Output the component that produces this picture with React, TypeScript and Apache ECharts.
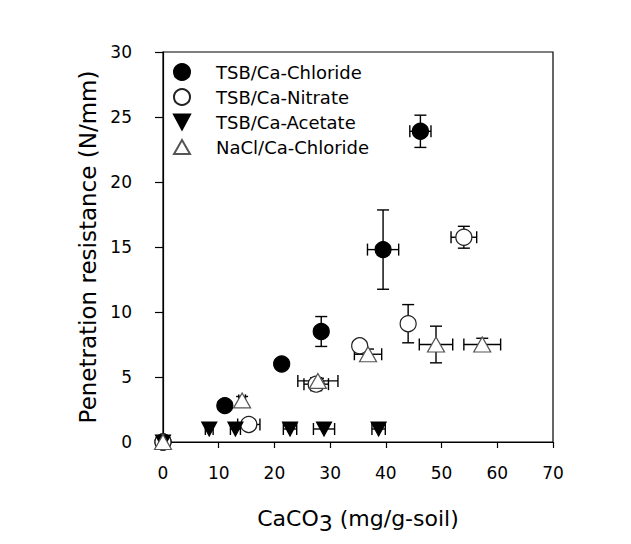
import React, { useEffect, useRef } from "react";
import * as echarts from "echarts";

const seriesNames = ["TSB/Ca-Chloride", "TSB/Ca-Nitrate", "TSB/Ca-Acetate", "NaCl/Ca-Chloride"];

const chlorideX = [0, 11.1, 21.3, 28.4, 39.5, 46.2];
const chlorideY = [0, 2.8, 6.0, 8.5, 14.8, 23.9];
const chlorideXErr = [0, 0, 0, 0, 2.8, 1.9];
const chlorideYErr = [0, 0, 0, 1.15, 3.05, 1.24];

const nitrateX = [0, 15.4, 27.5, 35.3, 44.0, 54.0];
const nitrateY = [0, 1.35, 4.45, 7.4, 9.1, 15.75];
const nitrateXErr = [0, 2.0, 2.2, 0, 0, 2.3];
const nitrateYErr = [0, 0.3, 0.5, 0, 1.47, 0.84];

const acetateX = [0, 8.3, 13.0, 22.8, 28.9, 38.7];
const acetateY = [0, 1.0, 1.0, 1.0, 1.0, 1.0];
const acetateXErr = [0, 0.7, 0.9, 1.2, 1.9, 1.2];
const acetateYErr = [0, 0, 0, 0, 0, 0];

const naclX = [0, 14.2, 27.8, 36.8, 49.0, 57.3];
const naclY = [0, 3.2, 4.7, 6.75, 7.5, 7.5];
const naclXErr = [0, 0.6, 3.6, 2.45, 3.0, 3.3];
const naclYErr = [0, 0.3, 0.2, 0.4, 1.41, 0.48];

const FONT = "DejaVu Sans";

function rows(x: number[], y: number[], xe: number[], ye: number[]) {
  return x.map((v, i) => [v, y[i], xe[i], ye[i]]);
}

const errRender = (params: any, api: any) => {
  const x = api.value(0);
  const y = api.value(1);
  const xe = api.value(2);
  const ye = api.value(3);
  const cap = 6;
  const st = { stroke: "#000", lineWidth: 1.4 };
  const children: any[] = [];
  if (xe > 0) {
    const l = api.coord([x - xe, y]);
    const r = api.coord([x + xe, y]);
    children.push({ type: "line", shape: { x1: l[0], y1: l[1], x2: r[0], y2: r[1] }, style: st });
    children.push({ type: "line", shape: { x1: l[0], y1: l[1] - cap, x2: l[0], y2: l[1] + cap }, style: st });
    children.push({ type: "line", shape: { x1: r[0], y1: r[1] - cap, x2: r[0], y2: r[1] + cap }, style: st });
  }
  if (ye > 0) {
    const b = api.coord([x, y - ye]);
    const t = api.coord([x, y + ye]);
    children.push({ type: "line", shape: { x1: b[0], y1: b[1], x2: t[0], y2: t[1] }, style: st });
    children.push({ type: "line", shape: { x1: b[0] - cap, y1: b[1], x2: b[0] + cap, y2: b[1] }, style: st });
    children.push({ type: "line", shape: { x1: t[0] - cap, y1: t[1], x2: t[0] + cap, y2: t[1] }, style: st });
  }
  return { type: "group", children };
};

export default function App() {
  const ref = useRef<HTMLDivElement>(null);
  useEffect(() => {
    if (!ref.current) return;
    const chart = echarts.init(ref.current, null, { renderer: "svg" });
    const sets = [
      { name: seriesNames[0], data: rows(chlorideX, chlorideY, chlorideXErr, chlorideYErr), symbol: "circle", size: 16, rotate: 0, fill: "#000", stroke: "#000" },
      { name: seriesNames[1], data: rows(nitrateX, nitrateY, nitrateXErr, nitrateYErr), symbol: "circle", size: 16, rotate: 0, fill: "#fff", stroke: "#222" },
      { name: seriesNames[2], data: rows(acetateX, acetateY, acetateXErr, acetateYErr), symbol: "triangle", size: [15, 14], rotate: 180, fill: "#000", stroke: "#000" },
      { name: seriesNames[3], data: rows(naclX, naclY, naclXErr, naclYErr), symbol: "triangle", size: [17, 15], rotate: 0, fill: "#fff", stroke: "#555" },
    ];
    const series: any[] = [];
    sets.forEach((s, i) => {
      series.push({
        type: "custom",
        name: "err" + i,
        data: s.data,
        encode: { x: 0, y: 1 },
        renderItem: errRender,
        silent: true,
      });
      series.push({
        type: "scatter",
        name: s.name,
        data: s.data.map((d) => [d[0], d[1]]),
        symbol: s.symbol,
        symbolSize: s.size,
        symbolRotate: s.rotate,
        itemStyle: { color: s.fill, borderColor: s.stroke, borderWidth: 1.2, opacity: 1 },
      });
    });
    chart.setOption({
      animation: false,
      backgroundColor: "#fff",
      grid: { left: 163, right: 78, top: 52, bottom: 102, show: true, borderColor: "#000", borderWidth: 1.2, backgroundColor: "transparent" },
      legend: {
        data: [
          { name: seriesNames[0], icon: "circle" },
          { name: seriesNames[1], icon: "circle" },
          { name: seriesNames[2], icon: "path://M0,0 L15,0 L7.5,14 Z" },
          { name: seriesNames[3], icon: "path://M7.5,0 L15,13 L0,13 Z" },
        ],
        orient: "vertical",
        left: 173,
        top: 63,
        padding: 0,
        itemWidth: 16,
        itemHeight: 16,
        itemGap: 7,
        textStyle: { fontFamily: FONT, fontSize: 18, lineHeight: 16, color: "#000", padding: [0, 0, 0, 21] },
      },
      xAxis: {
        type: "value",
        min: 0,
        max: 70,
        interval: 10,
        splitLine: { show: false },
        axisLine: { lineStyle: { color: "#000", width: 1.2 } },
        axisTick: { length: 6, lineStyle: { color: "#000", width: 1.2 } },
        axisLabel: { fontFamily: FONT, fontSize: 17, color: "#000", margin: 22 },
        name: "{a|CaCO}{b|3}{a| (mg/g-soil)}",
        nameLocation: "middle",
        nameGap: 60,
        nameTextStyle: {
          rich: {
            a: { fontFamily: FONT, fontSize: 22, color: "#000" },
            b: { fontFamily: FONT, fontSize: 22, color: "#000", padding: [10, 0, 0, 0] },
          },
        },
      },
      yAxis: {
        type: "value",
        min: 0,
        max: 30,
        interval: 5,
        splitLine: { show: false },
        axisLine: { lineStyle: { color: "#000", width: 1.2 } },
        axisTick: { length: 8, lineStyle: { color: "#000", width: 1.2 } },
        axisLabel: { fontFamily: FONT, fontSize: 17, color: "#000", margin: 31, padding: [9, 0, 0, 0] },
        name: "Penetration resistance (N/mm)",
        nameLocation: "middle",
        nameGap: 56,
        nameTextStyle: { fontFamily: FONT, fontSize: 23, color: "#000" },
      },
      series,
    });
    return () => chart.dispose();
  }, []);
  return <div ref={ref} style={{ position: "fixed", left: 0, top: 0, width: 631, height: 544 }} />;
}
